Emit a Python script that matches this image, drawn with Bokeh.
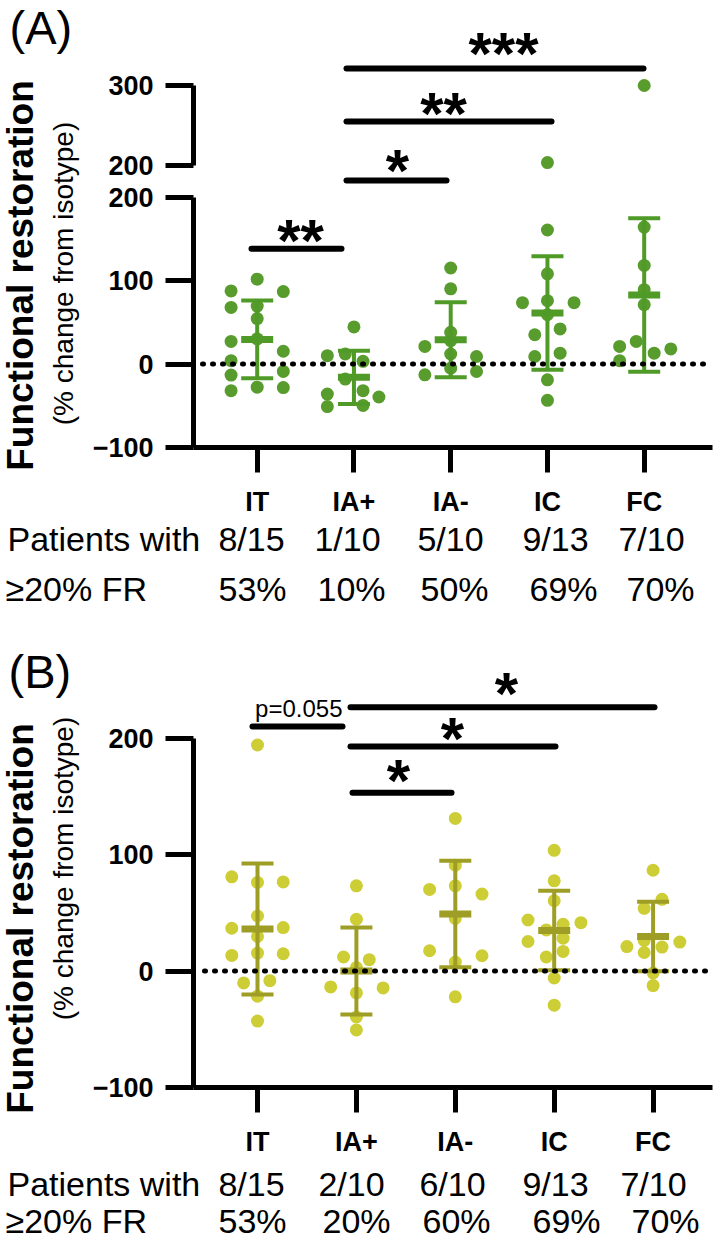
import numpy as np
from bokeh.plotting import figure
from bokeh.models import Range1d, LinearAxis, FixedTicker, Label
from bokeh.layouts import column
from bokeh.embed import file_html
from bokeh.resources import INLINE
from bokeh.core.properties import value

FONT = "Liberation Sans"

groups = ["IT", "IA+", "IA-", "IC", "FC"]

# ---------------- Panel A data (% change from isotype) ----------------
a_it = [101.6, 87.5, 86.7, 67.7, 69.4, 54.4, 27.0, 30.0, 15.3, 4.0, -13.3, -8.9, -32.0, -27.8, -28.2]
a_iap = [44.4, 10.0, 12.0, 3.2, -18.0, -36.0, -32.0, -39.5, -51.0, -49.6]
a_iam = [115.0, 90.0, 38.0, 28.0, 21.0, 12.0, 9.0, -5.0, -13.0, -9.0]
a_ic = [204.0, 160.5, 108.0, 73.4, 75.8, 73.4, 59.0, 42.0, 35.0, 13.0, 9.0, -19.0, -43.5]
a_fc = [300.0, 164.0, 118.0, 89.0, 71.0, 27.0, 21.0, 18.0, 13.0, 4.0]
a_mean = [29.4, -16.0, 29.0, 61.0, 82.7]
a_sd = [46.5, 31.8, 44.9, 68.0, 92.0]
a_frac = ["8/15", "1/10", "5/10", "9/13", "7/10"]
a_pct = ["53%", "10%", "50%", "69%", "70%"]
a_sig_pairs = [(0, 1), (1, 2), (1, 3), (1, 4)]
a_sig_text = ["**", "*", "**", "***"]

# ---------------- Panel B data ----------------
b_it = [194.0, 80.8, 76.0, 76.5, 47.2, 36.7, 37.3, 29.6, 13.4, 15.4, 14.8, -10.2, -8.3, -21.6, -43.0]
b_iap = [73.1, 44.4, 12.0, 9.7, 3.0, -13.7, -14.5, -18.8, -39.5, -50.6]
b_iam = [131.0, 90.8, 70.0, 73.1, 66.0, 45.2, 17.4, 13.1, 7.7, -22.2]
b_ic = [103.6, 77.4, 60.3, 43.8, 41.5, 40.1, 35.3, 25.3, 28.2, 12.0, 16.8, -6.0, -29.3]
b_fc = [86.5, 61.5, 53.8, 21.0, 24.8, 26.2, 20.5, 15.9, -1.7, -12.5]
b_mean = [36.1, 0.0, 48.9, 34.7, 29.6]
b_sd = [56.2, 37.3, 45.7, 34.1, 29.9]
b_frac = ["8/15", "2/10", "6/10", "9/13", "7/10"]
b_pct = ["53%", "20%", "60%", "69%", "70%"]
b_sig_pairs = [(0, 1), (1, 2), (1, 3), (1, 4)]
b_sig_text = ["p=0.055", "*", "*", "*"]

# ---------------- scatter spread (category units) ----------------
a_dx = [
    [0, -.27, .27, -.27, 0, 0, -.27, 0, .27, -.27, -.27, .27, -.27, 0, .27],
    [0, -.275, -.09, .094, -.09, -.275, .094, .258, -.275, .094],
    [0, 0, 0, 0, -.267, 0, .267, 0, -.267, .267],
    [0, 0, 0, -.258, 0, .275, 0, .131, -.131, .131, -.131, 0, 0],
    [0, 0, 0, 0, 0, -.082, -.254, .275, .103, -.254],
]
b_dx = [
    [0, -.26, 0, .26, 0, -.26, .26, 0, -.26, 0, .26, -.14, .125, 0, 0],
    [0, 0, -.13, .13, 0, -.26, .27, 0, 0, 0],
    [0, 0, -.26, 0, .27, 0, -.26, .27, 0, 0],
    [0, 0, 0, -.265, .27, .09, -.08, -.265, .09, -.08, .09, 0, 0],
    [0, .09, -.09, -.265, .27, -.09, .09, -.09, 0, 0],
]

# ---------------- layout (page pixels) ----------------
LA = dict(top=0, height=612, axis_y=447, axis_x=193, right=712, cat0=256.7, step=96.75, ppu=0.835,
          upper_px=(85.0, 165.3), zero_x0=202,
          sig_bars=[(251, 341, 248.3), (346, 446, 180), (346, 551, 121), (346, 643, 68)],
          sig_lbl=[(300, 232), (397, 162), (443, 105), (503, 45)],
          letter=(9, 27, "(A)"), title=(20, 275), subtitle=(63, 273),
          row1=538, row2=588,
          frac_x=[251, 347, 450, 555, 651], pct_x=[252, 351, 454, 563, 660])
LB = dict(top=612, height=633, axis_y=1087, axis_x=193, right=712, cat0=257.0, step=98.9, ppu=1.165,
          upper_px=None, zero_x0=204,
          sig_bars=[(252, 342, 726), (352, 451, 792.3), (350, 555, 746), (350, 654, 706.7)],
          sig_lbl=[(342, 708), (398, 772), (452, 730), (506, 685)],
          letter=(8, 671, "(B)"), title=(20, 918), subtitle=(63, 868),
          row1=1183, row2=1220,
          frac_x=[251, 351, 452, 555, 653], pct_x=[252, 356, 456, 566, 665])

STAR_SIZE = 60
STAR_SHIFT = 8
ROW_FS = "34px"


def style_axis(ax, tout, stand, fs):
    ax.axis_line_width = 5
    ax.major_tick_line_width = 5
    ax.major_tick_out = tout
    ax.major_tick_in = 0
    ax.minor_tick_line_color = None
    ax.major_label_standoff = stand
    ax.major_label_text_font = FONT
    ax.major_label_text_font_style = "bold"
    ax.major_label_text_font_size = fs
    ax.major_label_text_color = "black"


def make_panel(L, series, dxs, mean, sd, frac, pct, pairs, sig_text, dot_color, bar_color):
    def xd(px):
        return (px - L["cat0"]) / L["step"]

    def yd(py):
        return -100 + (L["axis_y"] - py) / L["ppu"]

    top, h = L["top"], L["height"]
    p = figure(width=720, height=h, output_backend="svg", toolbar_location=None,
               x_axis_type=None, y_axis_type=None,
               x_range=Range1d(xd(0), xd(720)), y_range=Range1d(yd(top + h), yd(top)),
               min_border=0, min_border_left=0, min_border_right=0,
               min_border_top=0, min_border_bottom=0)
    p.outline_line_color = None
    p.background_fill_color = "white"
    p.border_fill_color = "white"

    x_axis_pos = xd(L["axis_x"])
    ya = LinearAxis(bounds=(-100, 200), ticker=FixedTicker(ticks=[-100, 0, 100, 200]),
                    fixed_location=x_axis_pos)
    style_axis(ya, 28, 12, "27px")
    p.add_layout(ya, "left")

    xa = LinearAxis(bounds=(x_axis_pos, xd(L["right"])), ticker=FixedTicker(ticks=list(range(len(groups)))),
                    fixed_location=-100)
    xa.major_label_overrides = {i: g for i, g in enumerate(groups)}
    style_axis(xa, 25, 14, "27px")
    p.add_layout(xa, "below")

    has_upper = L["upper_px"] is not None
    if has_upper:
        p300, p200 = L["upper_px"]
        uppu = (p200 - p300) / 100.0
        p.extra_y_ranges = {"upper": Range1d(200 - (top + h - p200) / uppu,
                                             300 + (p300 - top) / uppu)}
        ua = LinearAxis(y_range_name="upper", bounds=(200, 300), ticker=FixedTicker(ticks=[200, 300]),
                        fixed_location=x_axis_pos)
        style_axis(ua, 28, 12, "27px")
        p.add_layout(ua, "left")

    # points
    xs, ys = [], []
    for i, (vals, dx) in enumerate(zip(series, dxs)):
        xs += [i + d for d in dx]
        ys += list(vals)
    xs = np.array(xs)
    ys = np.array(ys)
    lo = ys <= 200 if has_upper else np.ones(len(ys), bool)
    p.scatter(xs[lo], ys[lo], size=13, color=dot_color, line_color=None)
    if has_upper and (~lo).any():
        p.scatter(xs[~lo], ys[~lo], size=13, color=dot_color, line_color=None, y_range_name="upper")

    # mean +/- SD
    idx = np.arange(len(groups), dtype=float)
    m = np.array(mean)
    s = np.array(sd)
    hw = 16.0 / L["step"]
    p.segment(idx, m - s, idx, m + s, line_width=4, color=bar_color)
    p.segment(idx - hw, m + s, idx + hw, m + s, line_width=4, color=bar_color)
    p.segment(idx - hw, m - s, idx + hw, m - s, line_width=4, color=bar_color)
    p.segment(idx - hw, m, idx + hw, m, line_width=7, color=bar_color)

    # zero reference line (dotted), on top of the points
    p.segment([xd(L["zero_x0"])], [0], [xd(L["right"])], [0], line_color="black", line_width=5,
              line_dash="1 9", line_cap="round")

    # significance bars
    bx0 = [xd(b[0]) for b in L["sig_bars"]]
    bx1 = [xd(b[1]) for b in L["sig_bars"]]
    by = [yd(b[2]) for b in L["sig_bars"]]
    p.segment(bx0, by, bx1, by, line_width=6, line_cap="round", color="black")
    for (px, py), t in zip(L["sig_lbl"], sig_text):
        if set(t) == {"*"}:
            p.text([xd(px)], [yd(py + STAR_SHIFT)], text=[t], text_font=value(FONT),
                   text_font_style="bold", text_font_size=f"{STAR_SIZE}px",
                   text_align="center", text_baseline="middle", text_color="black")
        else:
            p.text([xd(px)], [yd(py)], text=[t], text_font=value(FONT),
                   text_font_size="24px", text_align="right", text_baseline="middle",
                   text_color="black")

    # panel letter
    lx, ly, lt = L["letter"]
    p.add_layout(Label(x=xd(lx), y=yd(ly), text=lt, text_font=FONT, text_font_size="47px",
                       text_align="left", text_baseline="middle", text_color="black"))
    # y title
    tx, ty = L["title"]
    p.add_layout(Label(x=xd(tx), y=yd(ty), text="Functional restoration", angle=np.pi / 2,
                       text_font=FONT, text_font_style="bold", text_font_size="37px",
                       text_align="center", text_baseline="middle", text_color="black"))
    sx, sy = L["subtitle"]
    p.add_layout(Label(x=xd(sx), y=yd(sy), text="(% change from isotype)", angle=np.pi / 2,
                       text_font=FONT, text_font_size="28px",
                       text_align="center", text_baseline="middle", text_color="black"))
    # rows under the axis
    p.add_layout(Label(x=xd(7), y=yd(L["row1"]), text="Patients with", text_font=FONT,
                       text_font_size=ROW_FS, text_align="left", text_baseline="middle",
                       text_color="black"))
    p.add_layout(Label(x=xd(5), y=yd(L["row2"]), text="\u226520% FR", text_font=FONT,
                       text_font_size=ROW_FS, text_align="left", text_baseline="middle",
                       text_color="black"))
    for i in range(len(groups)):
        p.add_layout(Label(x=xd(L["frac_x"][i]), y=yd(L["row1"]), text=frac[i], text_font=FONT,
                           text_font_size=ROW_FS, text_align="center", text_baseline="middle",
                           text_color="black"))
        p.add_layout(Label(x=xd(L["pct_x"][i]), y=yd(L["row2"]), text=pct[i], text_font=FONT,
                           text_font_size=ROW_FS, text_align="center", text_baseline="middle",
                           text_color="black"))
    return p


pA = make_panel(LA, [a_it, a_iap, a_iam, a_ic, a_fc], a_dx, a_mean, a_sd, a_frac, a_pct,
                a_sig_pairs, a_sig_text, "#589c2e", "#509a28")
pB = make_panel(LB, [b_it, b_iap, b_iam, b_ic, b_fc], b_dx, b_mean, b_sd, b_frac, b_pct,
                b_sig_pairs, b_sig_text, "#cdcd35", "#9e9e26")

layout = column(pA, pB, spacing=0)
open("out.html", "w").write(file_html(layout, INLINE))
